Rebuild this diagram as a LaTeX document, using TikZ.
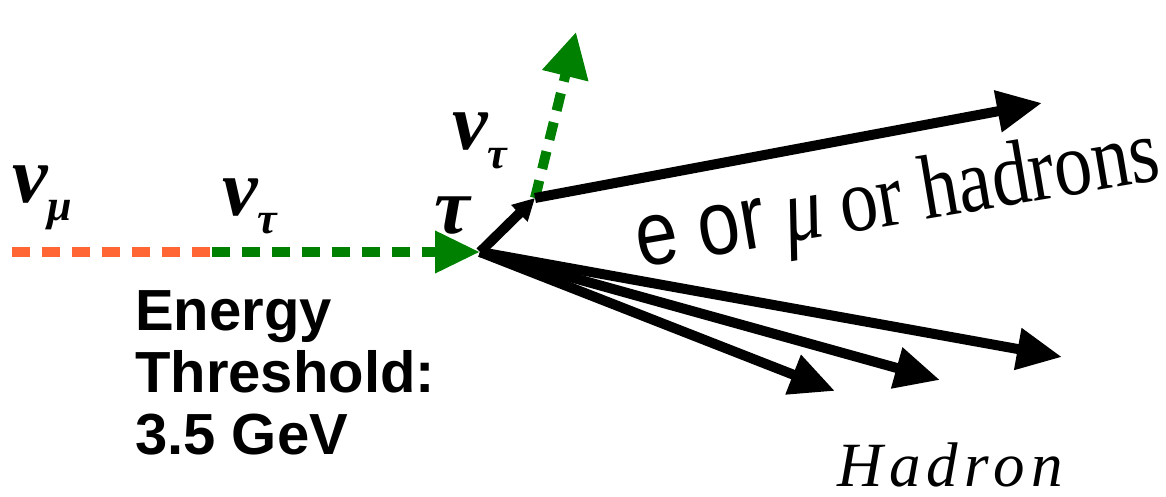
\documentclass[tikz,border=0pt]{standalone}
\usepackage{fontspec}
\setmainfont{Liberation Serif}
\setsansfont{Liberation Sans}
\usetikzlibrary{arrows.meta}
\definecolor{nuorange}{HTML}{FF6633}
\definecolor{nugreen}{HTML}{008000}
\tikzset{
  track/.style={line width=10pt},
  nuline/.style={line width=10pt, dash pattern=on 18pt off 12pt},
  bigtip/.style={-{Triangle[length=45pt,width=40pt]}},
  smalltip/.style={-{Triangle[length=22pt,width=22pt]}},
  greek/.style={inner sep=0pt, anchor=base west, font=\fontsize{80}{80}\selectfont\bfseries\itshape},
}
% particle symbol with a lowered index
\newcommand{\prt}[2]{#1\raisebox{-18pt}{\fontsize{44}{44}\selectfont #2}}

\begin{document}
\begin{tikzpicture}[x=1pt,y=-1pt]
			\useasboundingbox (0,0) rectangle (1166,497);
			% vertices
			\coordinate (numu) at (12,252);
			\coordinate (osc) at (212,252);
			\coordinate (vtx) at (480,252);
			\coordinate (decay) at (535,198);
			\coordinate (nuout) at (576,32);
			\coordinate (lep) at (1042,103);
			\coordinate (hadA) at (1062,357);
			\coordinate (hadB) at (940,380);
			\coordinate (hadC) at (835,391);
			% neutrino lines
			\draw[nuline,nuorange] (numu) -- (osc);
			\draw[nuline,nugreen,bigtip] (osc) -- (vtx);
			\draw[nuline,nugreen,-{Triangle[length=45pt,width=45pt]}] (decay) -- (nuout);
			% tau and decay products
			\draw[track,smalltip] (vtx) -- (decay);
			\draw[track,bigtip] (decay) -- (lep);
			\draw[track,bigtip] (vtx) -- (hadA);
			\draw[track,bigtip] (vtx) -- (hadB);
			\draw[track,bigtip] (vtx) -- (hadC);
			% labels
			\node[greek] (lnumu) at (12,202) {\prt{ν}{μ}};
			\node[greek] (lnutau) at (222,215) {\prt{ν}{τ}};
			\node[greek] (ltau) at (434,233) {τ};
			\node[greek] (lnuout) at (452,150) {\prt{ν}{τ}};
			\node[inner sep=0pt, anchor=base west, rotate=9.6, yscale=1.2,
			  font=\fontsize{76}{76}\selectfont] (lprod) at (640,268)
			  {{\sffamily e or} \textit{μ} or hadrons};
			\node[inner sep=0pt, anchor=north west, align=left,
			  font=\fontsize{58}{62}\selectfont\sffamily\bfseries] (thr) at (135,290)
			  {Energy\\Threshold:\\3.5 GeV};
			\node[inner sep=0pt, anchor=base, font=\fontsize{63}{63}\selectfont\itshape\addfontfeatures{LetterSpace=10}] (lhad) at (950,486) {Hadron};
		\end{tikzpicture}
\end{document}
